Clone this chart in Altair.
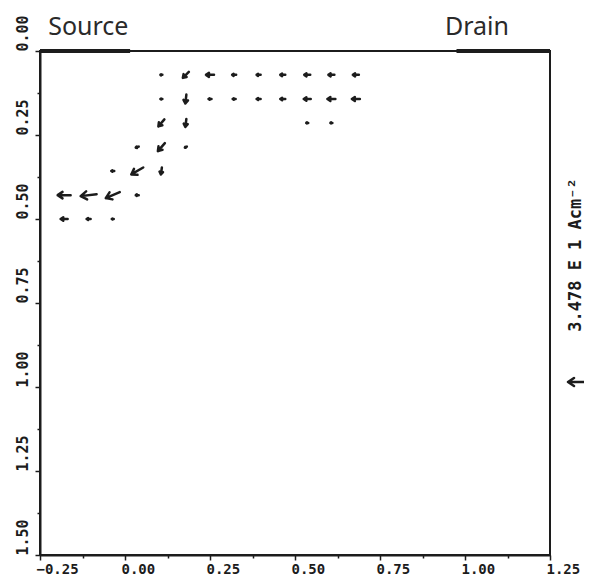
import altair as alt
import numpy as np
import pandas as pd

# ---- data ----
# grid positions of the drawn current-density vectors
arrow_x = [0.107, 0.179, 0.250, 0.321, 0.393, 0.464, 0.536, 0.607, 0.679,
           0.107, 0.179, 0.250, 0.321, 0.393, 0.464, 0.536, 0.607, 0.679,
           0.107, 0.179, 0.536, 0.607,
           0.036, 0.107, 0.179,
           -0.036, 0.036, 0.107,
           -0.179, -0.107, -0.036, 0.036,
           -0.179, -0.107, -0.036]
arrow_y = [0.071] * 9 + [0.143] * 9 + [0.214] * 4 + [0.286] * 3 + [0.357] * 3 + [0.429] * 4 + [0.500] * 3
# current density components (A/cm^2); jy positive = into the depth
current_x = [-4.3, -13.0, -17.4, -8.7, -8.7, -10.9, -13.0, -13.0, -13.0,
             -4.3, -2.2, -6.5, -6.5, -8.7, -10.9, -15.2, -17.4, -17.4,
             -13.0, -2.2, -4.3, -4.3,
             -6.5, -15.2, -4.3,
             -6.5, -26.0, -2.2,
             -28.2, -34.7, -30.4, -6.5,
             -15.2, -8.7, -4.3]
current_y = [0.0, 13.0, 0.0, 0.0, 0.0, 0.0, 0.0, 0.0, 0.0,
             0.0, 19.5, 0.0, 0.0, 0.0, 0.0, 0.0, 0.0, 0.0,
             15.2, 17.4, 0.0, 0.0,
             2.2, 17.4, 2.2,
             0.0, 15.2, 15.2,
             0.0, 4.3, 13.0, 0.0,
             0.0, 0.0, 0.0]

# reference vector
ref_value = 34.78
ref_depth = 0.985
ref_label = "3.478 E 1 Acm\u207b\u00b2"

# electrodes on the surface
electrode_names = ["Source", "Drain"]
electrode_start = [-0.25, 0.975]
electrode_end = [0.015, 1.25]
electrode_label_x = [-0.226, 0.941]
electrode_depth = [0.0, 0.0]

# axis ticks (major every 0.25, minor in between)
x_ticks = [-0.25, -0.125, 0.0, 0.125, 0.25, 0.375, 0.5, 0.625, 0.75, 0.875, 1.0, 1.125, 1.25]
y_ticks = [0.0, 0.125, 0.25, 0.375, 0.5, 0.625, 0.75, 0.875, 1.0, 1.125, 1.25, 1.375, 1.5]

# ---- styling ----
INK = "#1c1c1c"
PX_PER_UNIT = 16.0 / ref_value  # arrow length in px per A/cm^2
ARROW = "M-1,0 L1,0 M0.25,-0.5 L1,0 L0.25,0.5"

df = pd.DataFrame({"x": arrow_x, "y": arrow_y, "jx": current_x, "jy": current_y})
mag = np.hypot(df["jx"], df["jy"])
df["angle"] = np.degrees(np.arctan2(df["jy"], df["jx"])) % 360
df["size"] = (mag * PX_PER_UNIT) ** 2

ref_df = pd.DataFrame({"y": [ref_depth], "angle": [180.0], "size": [(ref_value * PX_PER_UNIT) ** 2]})
elec_df = pd.DataFrame({"name": electrode_names, "x": electrode_start, "x2": electrode_end,
                        "lx": electrode_label_x, "y": electrode_depth})

xs = alt.Scale(domain=[-0.25, 1.25], nice=False, zero=False)
ys = alt.Scale(domain=[0, 1.5], nice=False, zero=False, reverse=True)

major = "abs(datum.value*4 - round(datum.value*4)) < 0.001"
tick_size = {"condition": {"test": major, "value": 5}, "value": 3}
label_expr = f"{major} ? format(datum.value, '.2f') : ''"

x_axis = alt.Axis(values=x_ticks, labelExpr=label_expr, tickSize=tick_size, grid=False, title=None,
                  domainColor=INK, domainWidth=2, tickColor=INK, tickWidth=1.5,
                  labelFont="DejaVu Sans Mono", labelFontWeight="bold", labelFontSize=14,
                  labelColor=INK, labelAlign="left", labelOffset=-4, labelPadding=2,
                  labelFlush=False, labelOverlap=False)
y_axis = alt.Axis(values=y_ticks, labelExpr=label_expr, tickSize=tick_size, grid=False, title=None,
                  domainColor=INK, domainWidth=2, tickColor=INK, tickWidth=1.5,
                  labelFont="DejaVu Sans Mono", labelFontWeight="bold", labelFontSize=15,
                  labelColor=INK, labelAngle=270, labelAlign="left", labelBaseline="middle",
                  labelPadding=13, labelFlush=False, labelOverlap=False)

arrows = alt.Chart(df).mark_point(
    shape=ARROW, filled=False, strokeWidth=2.5, color=INK, opacity=1,
    strokeCap="round", strokeJoin="round"
).encode(
    x=alt.X("x:Q", scale=xs, axis=x_axis),
    y=alt.Y("y:Q", scale=ys, axis=y_axis),
    angle=alt.Angle("angle:Q", scale=None),
    size=alt.Size("size:Q", scale=None),
)

electrodes = alt.Chart(elec_df).mark_rule(strokeWidth=4, color=INK).encode(
    x=alt.X("x:Q", scale=xs, axis=x_axis),
    x2="x2:Q",
    y=alt.Y("y:Q", scale=ys, axis=y_axis),
)

elec_labels = alt.Chart(elec_df).mark_text(
    align="left", baseline="alphabetic", font="Noto Sans", fontSize=25, color="#2a2a2a"
).encode(
    x=alt.X("lx:Q", scale=xs, axis=x_axis),
    y=alt.value(-16),
    text="name:N",
)

ref_arrow = alt.Chart(ref_df).mark_point(
    shape=ARROW, filled=False, strokeWidth=2.5, color=INK, opacity=1,
    strokeCap="round", strokeJoin="round"
).encode(
    x=alt.value(536),
    y=alt.Y("y:Q", scale=ys, axis=y_axis),
    angle=alt.Angle("angle:Q", scale=None),
    size=alt.Size("size:Q", scale=None),
)

ref_text = alt.Chart(pd.DataFrame({"t": [ref_label]})).mark_text(
    angle=270, align="center", baseline="middle", font="DejaVu Sans Mono",
    fontWeight="bold", fontSize=17, color=INK
).encode(
    x=alt.value(536),
    y=alt.value(204),
    text="t:N",
)

chart = alt.layer(arrows, electrodes, elec_labels, ref_arrow, ref_text).properties(
    width=510, height=504,
    padding={"left": 32, "top": 43, "right": 34, "bottom": 21},
    autosize=alt.AutoSizeParams(type="none"),
    background="white",
).configure_view(stroke=INK, strokeWidth=2)

chart.save("out.html", embed_options={"renderer": "svg", "actions": False})
